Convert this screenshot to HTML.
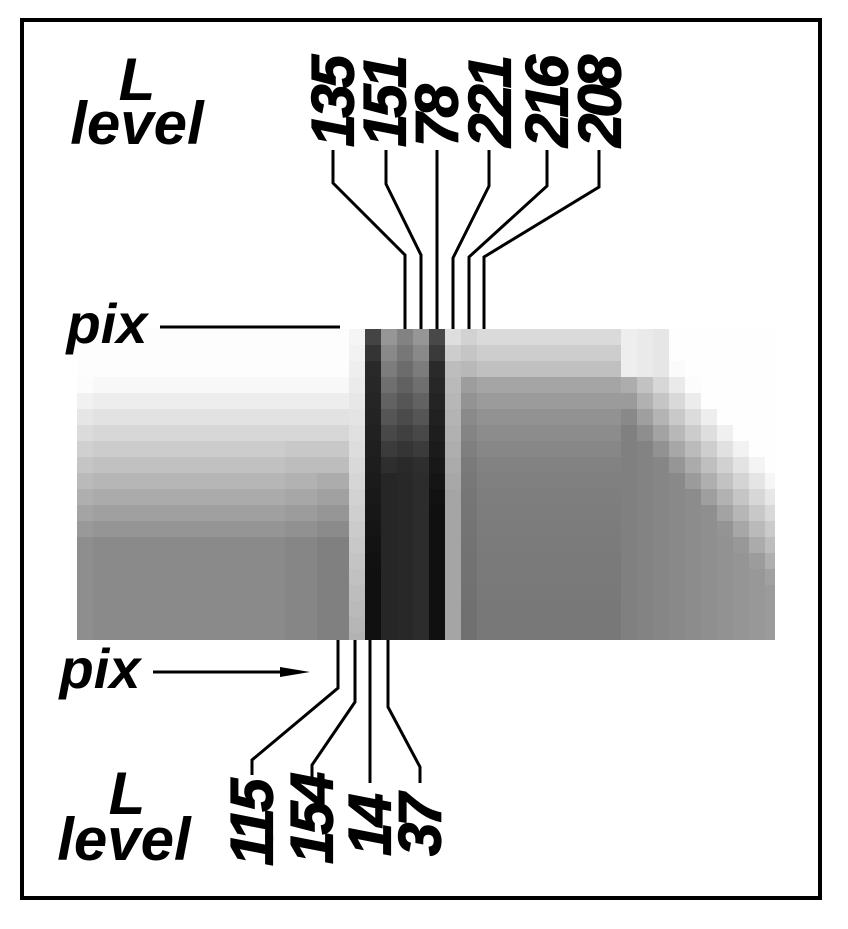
<!DOCTYPE html>
<html><head><meta charset="utf-8"><style>
html,body{margin:0;padding:0;background:#fff;}
svg{display:block;}
text{font-family:"Liberation Sans",Arial,sans-serif;font-weight:bold;font-style:italic;fill:#000;}
</style></head><body>
<svg id="s" width="848" height="929" viewBox="0 0 848 929" xmlns="http://www.w3.org/2000/svg">
<rect x="0" y="0" width="848" height="929" fill="#fff"/>
<g id="grid"></g>
<rect x="22" y="20" width="798" height="878" fill="none" stroke="#000" stroke-width="4"/>
<g fill="none" stroke="#000" stroke-width="3">
<polyline points="333,150 333,183 405,255 405,329"/>
<polyline points="386,150 386,184 421,255 421,329"/>
<polyline points="437,150 437,329"/>
<polyline points="489,150 489,186 453,258 453,329"/>
<polyline points="547,150 547,186 469,257 469,329"/>
<polyline points="599,150 599,187 484,257 484,329"/>
<polyline points="338,640 338,688 252,760 252,775"/>
<polyline points="355,640 355,702 312,765 312,778"/>
<polyline points="370,640 370,783"/>
<polyline points="388,640 388,707 420,767 420,783"/>
<line x1="160" y1="327" x2="340" y2="327"/>
<line x1="153" y1="672" x2="295" y2="672"/>
</g>
<polygon points="280,667 310,672 280,677" fill="#000"/>
<text x="137" y="100" font-size="60" text-anchor="middle">L</text>
<text x="137" y="144" font-size="60" text-anchor="middle">level</text>
<text x="127" y="814" font-size="60" text-anchor="middle">L</text>
<text x="124" y="860" font-size="60" text-anchor="middle">level</text>
<text x="107" y="343" font-size="56" text-anchor="middle">pix</text>
<text x="100" y="688" font-size="56" text-anchor="middle">pix</text>
<g font-size="60" letter-spacing="-4" dominant-baseline="central" stroke="#000" stroke-width="1.2">
<text transform="translate(333,147) rotate(-90)">135</text>
<text transform="translate(385,147) rotate(-90)">151</text>
<text transform="translate(437,147) rotate(-90)">78</text>
<text transform="translate(490,147) rotate(-90)">221</text>
<text transform="translate(547,147) rotate(-90)">216</text>
<text transform="translate(600,147) rotate(-90)">208</text>
<text transform="translate(252,866) rotate(-90)">115</text>
<text transform="translate(312,864) rotate(-90)">154</text>
<text transform="translate(370,856) rotate(-90)">14</text>
<text transform="translate(420,856) rotate(-90)">37</text>
</g>
</svg>
<script>
(function(){
var g=document.getElementById('grid'),ns="http://www.w3.org/2000/svg";
function cl(v){return Math.max(0,Math.min(255,Math.round(v)));}
function val(c,r){
  var v;
  if(c<=16){
    if(r<3) return 253;
    v=248-(r-3)*11; if(v<138)v=138;
    if(c>=13 && r>6) v-=4;
    if(c>=15 && r>8) v-=6;
    if(c===0) v+=4;
    return v;
  }
  if(c===17){return 245-r*3.5;}
  if(c===18){return r===0?68:(r===1?52:Math.max(16,45-r*2));}
  if(c===19){return Math.max(38,150-r*13);}
  if(c===20){return Math.max(40,130-r*11);}
  if(c===21){return Math.max(44,150-r*13);}
  if(c===22){return r===0?72:(r===1?58:Math.max(16,48-r*3));}
  if(c===23){return r===0?222:(r===1?205:Math.max(165,195-r*3));}
  if(c<=33){
    var a=[218,205,192,165,155,146,140,135,130,128,126,125,124,123,122,122,121,120,120,120];
    return a[r]+(c===24?-8:0);
  }
  var d=c-34;
  var base=128+d*3;
  var s=d*1.1-1.5;
  var t=(r-s)/7; if(t<0)t=0; if(t>1)t=1;
  if(d<=2 && r<3) return 238-d*4;
  return 254-(254-base)*t;
}
for(var r=0;r<20;r++){
  for(var c=0;c<44;c++){
    var v=cl(val(c,r));
    var x=77+c*16,y=329+r*16,w=16,h=16;
    if(c===43) w=775-x;
    if(r===19) h=640-y;
    if(w<=0||h<=0) continue;
    var e=document.createElementNS(ns,'rect');
    e.setAttribute('x',x);e.setAttribute('y',y);e.setAttribute('width',w);e.setAttribute('height',h);
    e.setAttribute('fill','rgb('+v+','+v+','+v+')');
    g.appendChild(e);
  }
}
})();
</script>
</body></html>
